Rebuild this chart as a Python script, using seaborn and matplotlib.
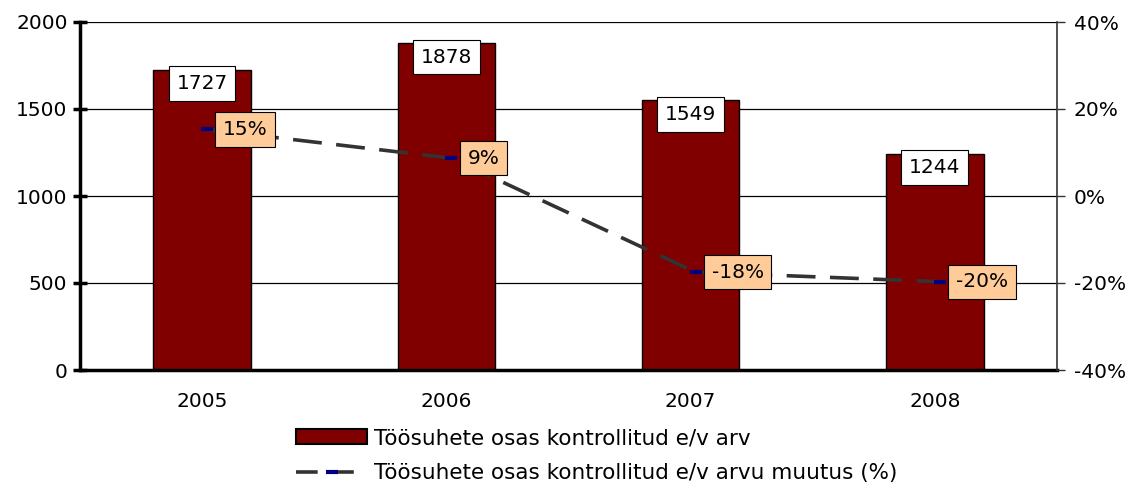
import matplotlib
matplotlib.use("Agg")
import matplotlib.pyplot as plt
import seaborn as sns
import pandas as pd
from matplotlib.patches import Patch
from matplotlib.lines import Line2D
import matplotlib.ticker as mtick

years = ["2005", "2006", "2007", "2008"]
counts = [1727, 1878, 1549, 1244]
changes = [0.153, 0.087, -0.175, -0.197]
change_labels = ["15%", "9%", "-18%", "-20%"]
bar_name = "Töösuhete osas kontrollitud e/v arv"
line_name = "Töösuhete osas kontrollitud e/v arvu muutus (%)"

sns.set_theme(style="white")
plt.rcParams['font.family'] = ['DejaVu Sans']
plt.rcParams['text.color'] = 'black'
plt.rcParams['xtick.color'] = 'black'
plt.rcParams['ytick.color'] = 'black'

FS = 14.5

df = pd.DataFrame({"year": years, "count": counts, "change": changes})

fig = plt.figure(figsize=(11.36, 4.88), dpi=100)
ax = fig.add_axes([80/1136, 1-370/488, 977/1136, 348/488])

sns.barplot(data=df, x="year", y="count", ax=ax, color="#800000",
            edgecolor="black", linewidth=1, width=0.4, saturation=1, zorder=2)
ax.set_xlim(-0.5, 3.5)
ax.set_ylim(0, 2000)
ax.set_yticks([0, 500, 1000, 1500, 2000])
ax.set_xlabel("")
ax.set_ylabel("")
ax.yaxis.grid(True, color="black", linewidth=0.9)
ax.set_axisbelow(True)
for s in ["top", "right"]:
    ax.spines[s].set_visible(False)
ax.spines["left"].set_linewidth(2.5)
ax.spines["left"].set_color("black")
ax.spines["bottom"].set_linewidth(2.5)
ax.spines["bottom"].set_color("black")
ax.set_xticks([0, 1, 2, 3])
ax.set_xticklabels(years, fontsize=FS, color="black")
ax.tick_params(axis="x", length=0, pad=16)
ax.set_xticks([-0.5, 0.5, 1.5, 2.5, 3.5], minor=True)
ax.tick_params(axis="x", which="minor", direction="inout", length=10, width=2.5, color="black")
ax.tick_params(axis="y", direction="inout", length=10, width=2.5, color="black",
               labelsize=FS, labelcolor="black", pad=4)

for i, v in enumerate(counts):
    ax.annotate(str(v), xy=(i, v), xytext=(0, -14), textcoords="offset pixels",
                ha="center", va="center", fontsize=FS, color="black", zorder=5,
                bbox=dict(boxstyle="square,pad=0.38", fc="white", ec="black", lw=0.8))

ax2 = ax.twinx()
ax2.set_ylim(-0.4, 0.4)
ax2.set_yticks([-0.4, -0.2, 0, 0.2, 0.4])
ax2.yaxis.set_major_formatter(mtick.FuncFormatter(lambda v, p: f"{v*100:.0f}%"))
ax2.tick_params(axis="y", direction="out", length=6, width=1, color="#333333",
                labelsize=FS, labelcolor="black", pad=6)
ax2.grid(False)
for s in ["top", "left", "bottom"]:
    ax2.spines[s].set_visible(False)
ax2.spines["right"].set_color("#333333")
ax2.spines["right"].set_linewidth(1.2)

xs = [0.02, 1.02, 2.02, 3.02]
ax2.plot(xs, changes, color="#333333", linewidth=2.6, dashes=(8, 4), zorder=3,
         marker="_", markersize=9, markeredgewidth=3, markeredgecolor="#000080")
for x, v, lab in zip(xs, changes, change_labels):
    ax2.annotate(lab, xy=(x, v), xytext=(16, 0), textcoords="offset pixels",
                 ha="left", va="center", fontsize=FS, color="black", zorder=6,
                 bbox=dict(boxstyle="square,pad=0.38", fc="#FFCC99", ec="black", lw=0.8))

handles = [Patch(facecolor="#800000", edgecolor="black", linewidth=1.5),
           Line2D([0], [0], color="#333333", linewidth=2.6, dashes=(6, 4),
                  marker="_", markersize=8, markeredgewidth=3, markeredgecolor="#000080")]
fig.legend(handles, [bar_name, line_name], loc="upper left",
           bbox_to_anchor=(296/1136, 1-428/488), frameon=False, fontsize=15.5,
           handlelength=3.3, handleheight=0.7, handletextpad=0.3, labelspacing=0.7,
           borderpad=0, borderaxespad=0, labelcolor="black")

fig.savefig("out.png", dpi=100)
